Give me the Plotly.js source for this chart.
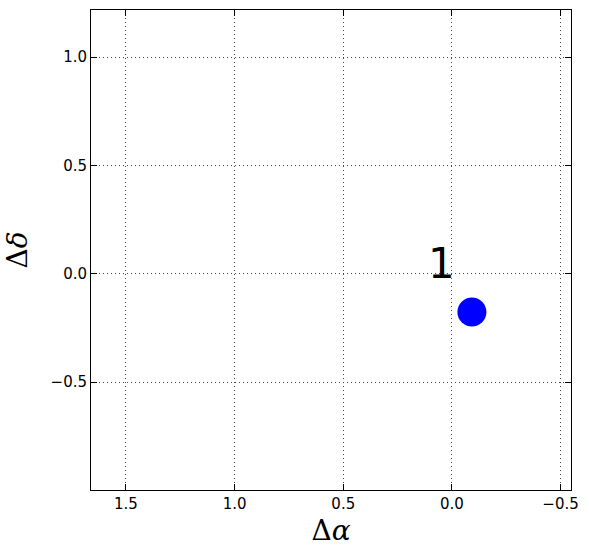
<!DOCTYPE html>
<html>
<head>
<meta charset="utf-8">
<script src="https://cdn.plot.ly/plotly-3.0.1.min.js"></script>
<style>html,body{margin:0;padding:0;background:#fff;}</style>
</head>
<body>
<div id="chart" style="width:589px;height:558px;"></div>
<script>
var dAlpha = [-0.092];
var dDelta = [-0.176];
var labels = ['1'];
var xRange = [1.661, -0.548];
var yRange = [-0.998, 1.218];

var trace = {
  x: dAlpha, y: dDelta, mode: 'markers', type: 'scatter',
  marker: {color: '#0000ff', size: 29, line: {width: 0}},
  hoverinfo: 'none', showlegend: false
};

var axisCommon = {
  showline: true, linecolor: 'black', linewidth: 1, mirror: 'ticks',
  ticks: 'inside', ticklen: 6, tickcolor: 'black', tickwidth: 1,
  showgrid: true, gridcolor: '#444444', gridwidth: 1, griddash: '1px,3px',
  zeroline: false, dtick: 0.5, tick0: 0, tickformat: '.1f',
  tickfont: {family: 'DejaVu Sans', size: 15, color: 'black'}
};

var layout = {
  width: 589, height: 558,
  margin: {l: 91, r: 18, t: 10, b: 68},
  paper_bgcolor: 'white', plot_bgcolor: 'white',
  xaxis: Object.assign({}, axisCommon, {
    range: xRange, autorange: false,
    title: {text: 'Δ<i>α</i>', font: {family: 'DejaVu Serif', size: 28, color: 'black'}, standoff: 8}
  }),
  yaxis: Object.assign({}, axisCommon, {
    range: yRange, autorange: false,
    title: {text: 'Δ<i>δ</i>', font: {family: 'DejaVu Serif', size: 28, color: 'black'}, standoff: 14}
  }),
  annotations: labels.map(function(t, i) {
    return {x: 0.0, y: 0.0, xref: 'x', yref: 'y', text: t, showarrow: false,
      xanchor: 'right', yanchor: 'middle', xshift: 5, yshift: 10,
      font: {family: 'DejaVu Sans', size: 42, color: 'black'}};
  })
};

Plotly.newPlot('chart', [trace], layout, {displayModeBar: false, staticPlot: true});
</script>
</body>
</html>
